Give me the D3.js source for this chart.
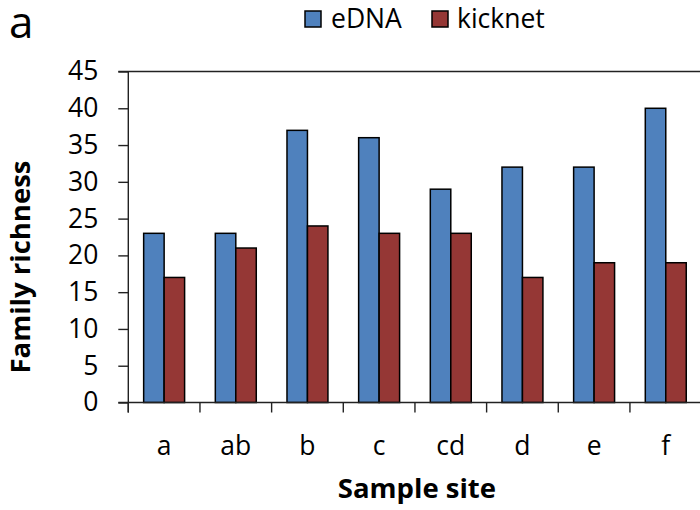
<!DOCTYPE html>
<html>
<head>
<meta charset="utf-8">
<script src="https://cdn.jsdelivr.net/npm/d3@7"></script>
<style>
  html, body { margin: 0; padding: 0; background: #fff; }
  svg { display: block; font-family: "Open Sans", sans-serif; }
</style>
</head>
<body>
<svg id="chart" width="700" height="510"></svg>
<script>
const categories = ["a", "ab", "b", "c", "cd", "d", "e", "f"];
const seriesNames = ["eDNA", "kicknet"];
const eDNA = [23, 23, 37, 36, 29, 32, 32, 40];
const kicknet = [17, 21, 24, 23, 23, 17, 19, 19];
const yTicks = [0, 5, 10, 15, 20, 25, 30, 35, 40, 45];
const colors = {eDNA: "#4f81bd", kicknet: "#953735"};

const data = categories.map((c, i) => ({cat: c, eDNA: eDNA[i], kicknet: kicknet[i]}));

const svg = d3.select("#chart");
const plotLeft = 128.3, plotRight = 701.6, plotTop = 71.5, plotBottom = 402.5;

const x0 = d3.scaleBand().domain(categories).range([plotLeft, plotRight]).padding(0);
const x1 = d3.scaleBand().domain(seriesNames).range([0, x0.bandwidth()])
  .paddingInner(0).paddingOuter(0.75);
const y = d3.scaleLinear().domain([0, 45]).range([plotBottom, plotTop]);

// top border line (at 45)
svg.append("line")
  .attr("x1", plotLeft - 10).attr("x2", 700)
  .attr("y1", y(45)).attr("y2", y(45))
  .attr("stroke", "#222").attr("stroke-width", 1.4);

// bars
const groups = svg.append("g").selectAll("g").data(data).join("g")
  .attr("transform", d => `translate(${x0(d.cat)},0)`);
groups.selectAll("rect")
  .data(d => seriesNames.map(s => ({s, v: d[s]})))
  .join("rect")
  .attr("x", d => x1(d.s))
  .attr("width", x1.bandwidth())
  .attr("y", d => y(d.v))
  .attr("height", d => y(0) - y(d.v))
  .attr("fill", d => colors[d.s])
  .attr("stroke", "#000")
  .attr("stroke-width", 1.5);

// y axis
const yAxis = d3.axisLeft(y).tickValues(yTicks).tickSize(10).tickPadding(20);
const gy = svg.append("g").attr("transform", `translate(${plotLeft},0)`).call(yAxis);
gy.select(".domain").remove();
gy.selectAll(".tick line").attr("stroke", "#222").attr("stroke-width", 1.4);
gy.selectAll(".tick text")
  .attr("font-family", "'Open Sans', sans-serif")
  .attr("font-size", 26.5).attr("fill", "#000");
svg.append("line")
  .attr("x1", plotLeft).attr("x2", plotLeft)
  .attr("y1", plotTop).attr("y2", plotBottom + 10)
  .attr("stroke", "#222").attr("stroke-width", 1.4);

// x axis
svg.append("line")
  .attr("x1", plotLeft - 10).attr("x2", 700)
  .attr("y1", plotBottom).attr("y2", plotBottom)
  .attr("stroke", "#222").attr("stroke-width", 1.4);
const boundaries = categories.map(c => x0(c)).concat([x0.range()[1]]);
svg.append("g").selectAll("line").data(boundaries).join("line")
  .attr("x1", d => d).attr("x2", d => d)
  .attr("y1", plotBottom).attr("y2", plotBottom + 10)
  .attr("stroke", "#222").attr("stroke-width", 1.4);
svg.append("g").selectAll("text").data(categories).join("text")
  .attr("x", d => x0(d) + x0.bandwidth() / 2)
  .attr("y", 455)
  .attr("text-anchor", "middle")
  .attr("font-size", 26.5)
  .text(d => d);

// axis titles
svg.append("text")
  .attr("x", (plotLeft + plotRight) / 2 + 2)
  .attr("y", 498)
  .attr("text-anchor", "middle")
  .attr("font-size", 27.5).attr("font-weight", "bold")
  .text("Sample site");
svg.append("text")
  .attr("transform", "translate(30,267) rotate(-90)")
  .attr("text-anchor", "middle")
  .attr("font-size", 27.5).attr("font-weight", "bold")
  .text("Family richness");

// panel label
svg.append("text")
  .attr("x", 9).attr("y", 38)
  .attr("font-size", 44)
  .text("a");

// legend
const legendItems = [
  {name: "eDNA", sx: 305, tx: 331},
  {name: "kicknet", sx: 432, tx: 457}
];
const lg = svg.append("g").selectAll("g").data(legendItems).join("g");
lg.append("rect")
  .attr("x", d => d.sx).attr("y", 11)
  .attr("width", 16).attr("height", 16)
  .attr("fill", d => colors[d.name])
  .attr("stroke", "#000").attr("stroke-width", 1.5);
lg.append("text")
  .attr("x", d => d.tx).attr("y", 27.5)
  .attr("font-size", 26.5)
  .text(d => d.name);
</script>
</body>
</html>
